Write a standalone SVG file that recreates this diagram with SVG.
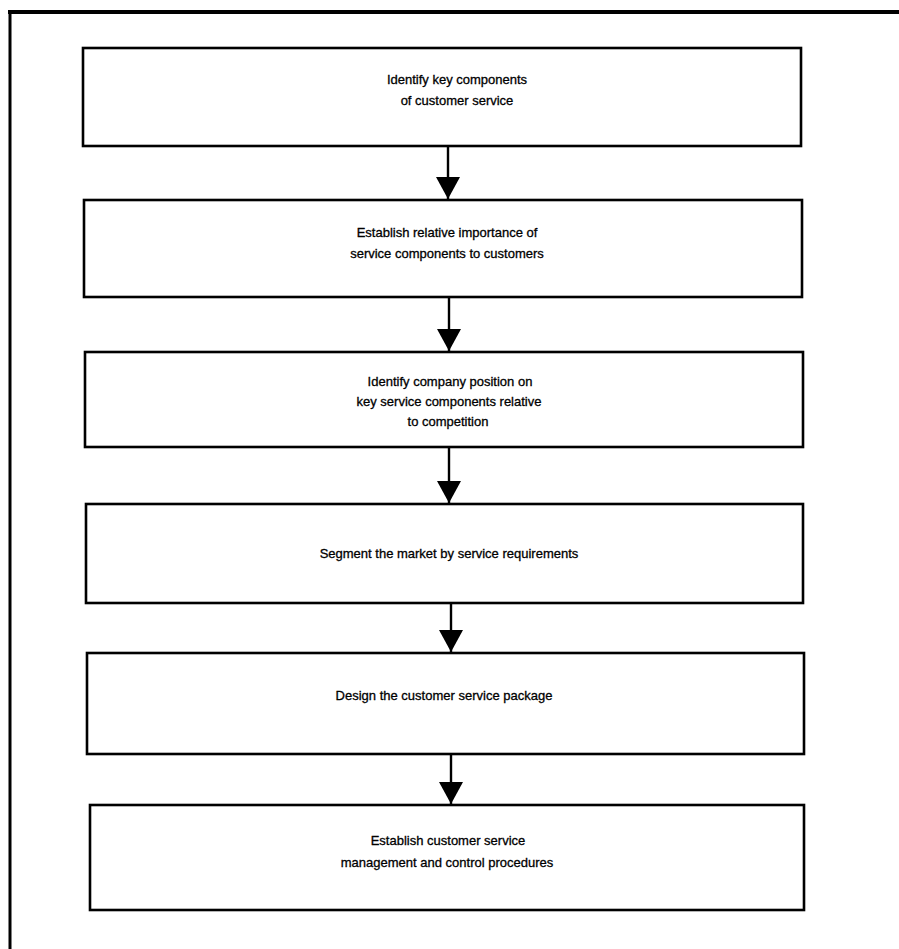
<svg xmlns="http://www.w3.org/2000/svg" width="899" height="949" viewBox="0 0 899 949">
<style>
.box{fill:#fff;stroke:#000;stroke-width:2.6}
.frame{stroke:#000;fill:none}
.t{font-family:"Liberation Sans",Arial,sans-serif;font-size:13px;fill:#000;text-anchor:middle;dominant-baseline:central;stroke:#000;stroke-width:0.3}
.c{stroke:#000;stroke-width:2.4;fill:none;marker-end:url(#ah)}
</style>
<defs>
<marker id="ah" viewBox="0 0 22 24" refX="22" refY="12" markerWidth="22" markerHeight="24" markerUnits="userSpaceOnUse" orient="auto">
<path d="M0,0 L22,12 L0,24 Z" fill="#000"/>
</marker>
</defs>
<rect width="899" height="949" fill="#fff"/>
<g id="frame">
<line class="frame" x1="8" y1="12" x2="899" y2="12" stroke-width="4"/>
<line class="frame" x1="10" y1="10" x2="10" y2="949" stroke-width="3"/>
</g>
<g id="connectors">
<line class="c" x1="448" y1="146" x2="448" y2="199"/>
<line class="c" x1="449" y1="297" x2="449" y2="351"/>
<line class="c" x1="449" y1="447" x2="449" y2="503"/>
<line class="c" x1="451" y1="603" x2="451" y2="652"/>
<line class="c" x1="451" y1="754" x2="451" y2="804"/>
</g>
<g id="n1">
<rect class="box" x="83" y="48" width="718" height="98"/>
<text class="t" x="457" y="79">Identify key components</text>
<text class="t" x="457" y="100">of customer service</text>
</g>
<g id="n2">
<rect class="box" x="84" y="200" width="718" height="97"/>
<text class="t" x="447" y="232">Establish relative importance of</text>
<text class="t" x="447" y="253">service components to customers</text>
</g>
<g id="n3">
<rect class="box" x="85" y="352" width="718" height="95"/>
<text class="t" x="450" y="381">Identify company position on</text>
<text class="t" x="449" y="401">key service components relative</text>
<text class="t" x="448" y="421">to competition</text>
</g>
<g id="n4">
<rect class="box" x="86" y="504" width="717" height="99"/>
<text class="t" x="449" y="553">Segment the market by service requirements</text>
</g>
<g id="n5">
<rect class="box" x="87" y="653" width="717" height="101"/>
<text class="t" x="444" y="695">Design the customer service package</text>
</g>
<g id="n6">
<rect class="box" x="90" y="805" width="714" height="105"/>
<text class="t" x="448" y="840">Establish customer service</text>
<text class="t" x="447" y="862">management and control procedures</text>
</g>
</svg>
